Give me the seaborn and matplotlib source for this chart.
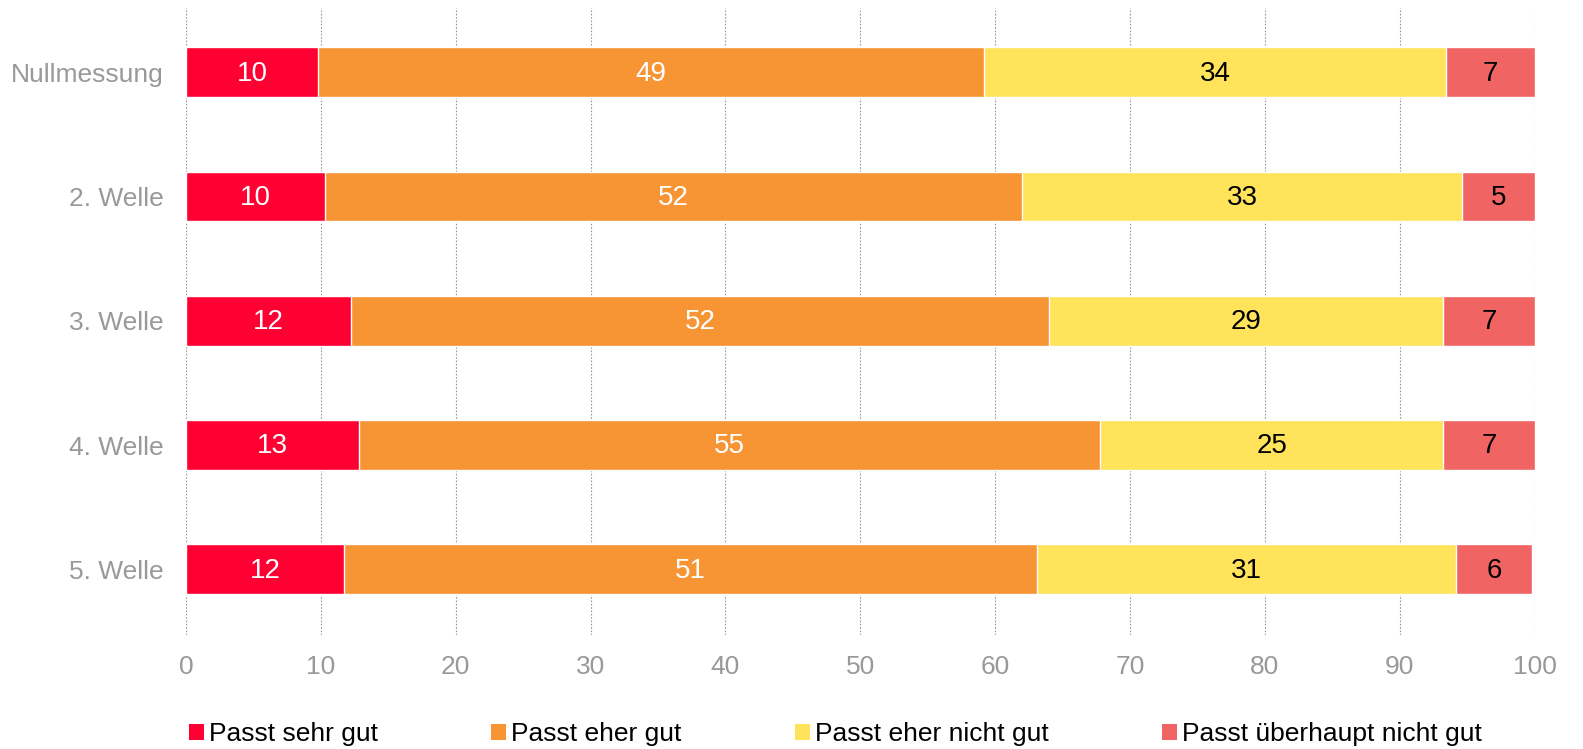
import numpy as np
import pandas as pd
import matplotlib
matplotlib.use('Agg')
import matplotlib.pyplot as plt
import seaborn as sns
from matplotlib.patches import Patch

waves = ['Nullmessung', '2. Welle', '3. Welle', '4. Welle', '5. Welle']
categories = ['Passt sehr gut', 'Passt eher gut', 'Passt eher nicht gut', 'Passt überhaupt nicht gut']
sehr_gut = [9.8, 10.3, 12.2, 12.8, 11.7]
eher_gut = [49.4, 51.7, 51.8, 55.0, 51.4]
eher_nicht = [34.2, 32.6, 29.2, 25.4, 31.1]
gar_nicht = [6.6, 5.4, 6.8, 6.8, 5.6]
colors = ['#FF0033', '#F79433', '#FFE35B', '#F06464']
text_colors = ['white', 'white', 'black', 'black']

sns.set_style('white')
plt.rcParams['font.family'] = ['Liberation Sans', 'DejaVu Sans']

df = pd.DataFrame({'wave': waves, categories[0]: sehr_gut, categories[1]: eher_gut,
                   categories[2]: eher_nicht, categories[3]: gar_nicht})
cum = df[categories].cumsum(axis=1)

fig = plt.figure(figsize=(15.83, 7.49), dpi=100)
ax = fig.add_axes([0.1175, 0.152, 0.852, 0.837])

# draw cumulative bars from the back so the stack shows
for i in range(len(categories) - 1, -1, -1):
    sns.barplot(x=cum[categories[i]], y=df['wave'], color=colors[i], orient='h',
                width=0.4, saturation=1, ax=ax, zorder=2)

for i, cat in enumerate(categories):
    left = cum[cat] - df[cat]
    for j in range(len(waves)):
        ax.text(left[j] + df[cat][j] / 2, j + 0.01, f'{df[cat][j]:.0f}', ha='center', va='center',
                fontsize=20, color=text_colors[i], zorder=3)

ax.set_xlim(0, 100)
ax.set_ylim(4.53, -0.516)
ax.set_xticks(np.arange(0, 101, 10))
ax.grid(axis='x', linestyle=(0, (1.5, 1.5)), color='#999999', linewidth=0.8, zorder=0)
ax.set_axisbelow(True)
for s in ax.spines.values():
    s.set_visible(False)
ax.set_xlabel('')
ax.set_ylabel('')
ax.tick_params(axis='both', length=0, labelsize=19, labelcolor='#999999')
ax.tick_params(axis='x', pad=14)
ax.tick_params(axis='y', pad=16)

handles = [Patch(facecolor=c, edgecolor='none') for c in colors]
fig.legend(handles, categories, loc='center left', bbox_to_anchor=(0.1045, 0.02), ncol=4,
           frameon=False, fontsize=19, handlelength=0.55, handleheight=0.55, handletextpad=0.2,
           columnspacing=4.3, labelcolor='black')

fig.savefig('out.png', dpi=100)
